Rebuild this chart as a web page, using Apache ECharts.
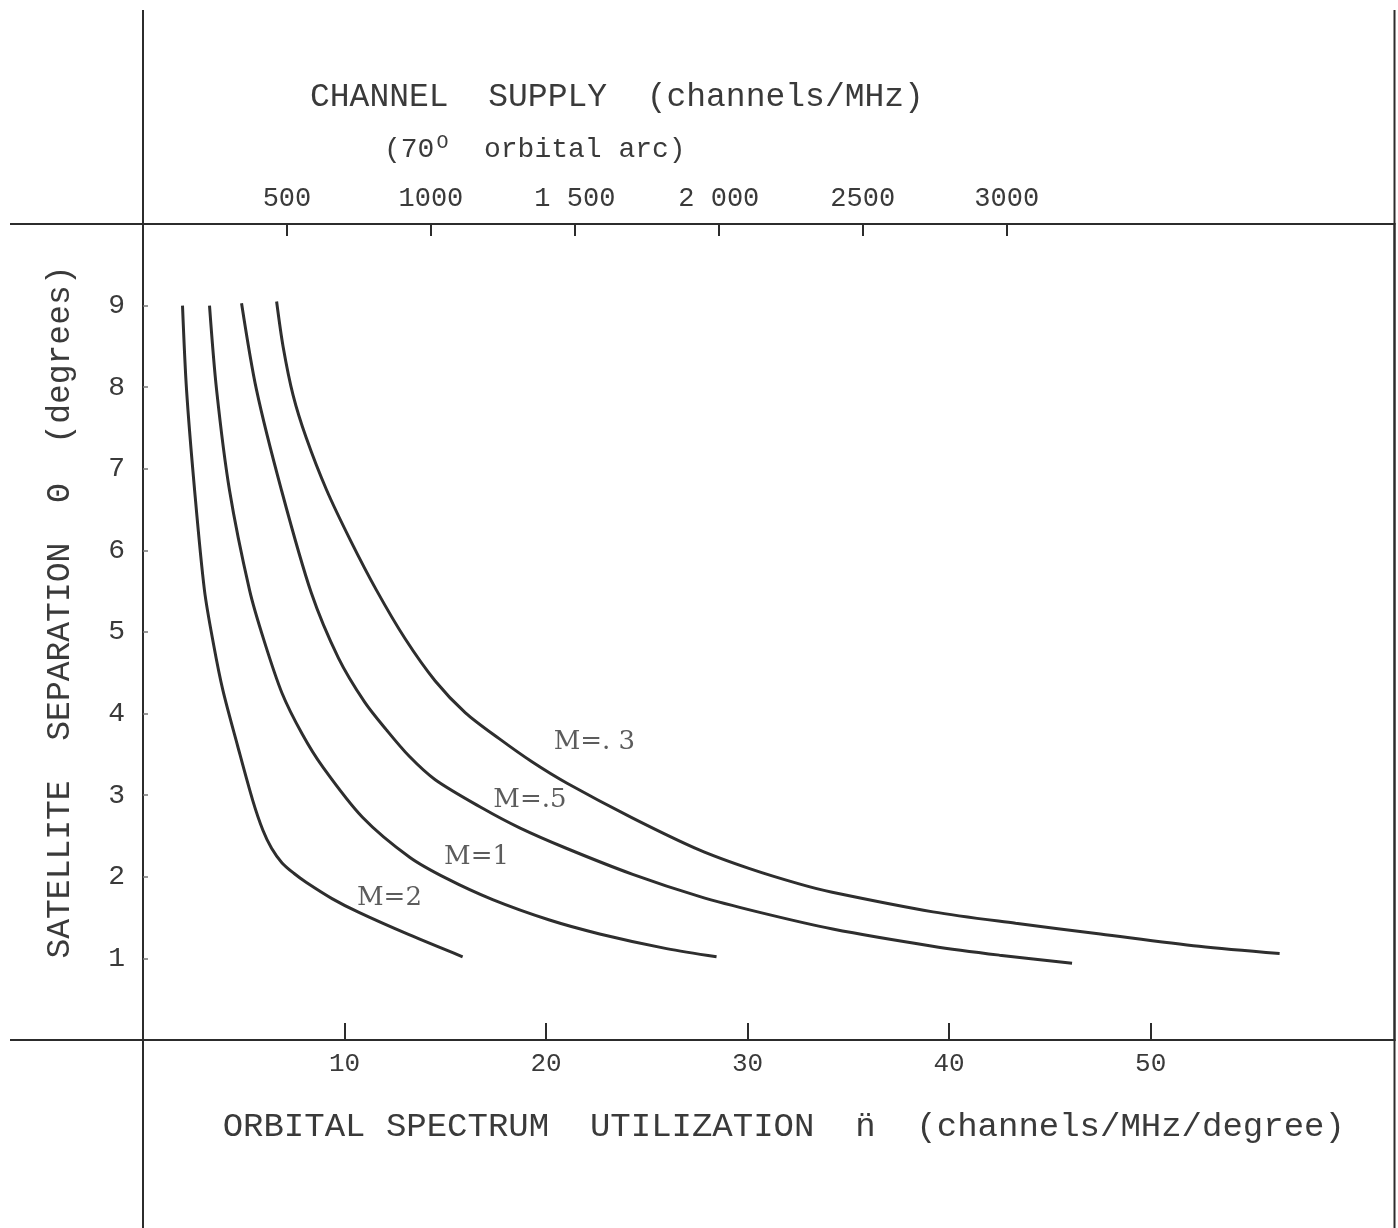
<!DOCTYPE html>
<html>
<head>
<meta charset="utf-8">
<script src="https://cdn.jsdelivr.net/npm/echarts@6/dist/echarts.min.js"></script>
<style>
html,body{margin:0;padding:0;background:#ffffff;}
#chart{width:1398px;height:1228px;}
</style>
</head>
<body>
<div id="chart"></div>
<script>
// ---------------- data ----------------
const seriesNames = ['M=2', 'M=1', 'M=.5', 'M=.3'];

// [orbital spectrum utilization n (channels/MHz/degree), satellite separation θ (degrees)]
const curveM2 = [[1.96,9.0],[2.16,7.97],[2.56,6.74],[3.05,5.51],[3.5,4.85],[3.96,4.29],[4.7,3.6],[5.44,2.94],[5.95,2.57],[6.38,2.35],[6.9,2.17],[7.5,2.04],[8.11,1.93],[9.4,1.73],[10.74,1.56],[13.2,1.29],[15.86,1.02]];
const curveM1 = [[3.30,9.0],[3.65,7.97],[4.29,6.74],[5.29,5.51],[6.0,4.9],[6.9,4.25],[7.9,3.75],[8.91,3.35],[10.89,2.73],[13.23,2.24],[15.06,1.98],[17.35,1.72],[20.17,1.47],[22.66,1.30],[25.98,1.12],[28.46,1.02]];
const curveM05 = [[4.89,9.03],[5.63,7.97],[6.87,6.74],[8.35,5.48],[9.7,4.68],[11.0,4.14],[12.08,3.80],[13.2,3.48],[14.5,3.19],[16.85,2.84],[18.69,2.60],[21.0,2.35],[24.3,2.03],[27.6,1.76],[30.5,1.57],[34.22,1.36],[39.18,1.15],[42.5,1.04],[46.1,0.94]];
const curveM03 = [[6.63,9.05],[6.95,8.5],[7.45,7.9],[8.1,7.38],[9.11,6.74],[10.3,6.12],[11.59,5.51],[13.0,4.92],[14.5,4.40],[16.0,4.01],[17.69,3.69],[19.3,3.41],[21.02,3.15],[24.3,2.72],[27.6,2.33],[30.1,2.10],[32.6,1.91],[34.2,1.81],[39.2,1.57],[43.3,1.43],[47.5,1.30],[52.4,1.15],[56.4,1.06]];

const curveLabels = [
  { text: 'M=2',   n: 12.23, theta: 1.74 },
  { text: 'M=1',   n: 16.55, theta: 2.24 },
  { text: 'M=.5',  n: 19.2,  theta: 2.94 },
  { text: 'M=. 3', n: 22.4,  theta: 3.65 }
];

const bottomTicks = [10, 20, 30, 40, 50];
const topTicks = [500, 1000, 1500, 2000, 2500, 3000];
const topTickLabels = ['500', '1000', '1 500', '2 000', '2500', '3000'];
const yTicks = [1, 2, 3, 4, 5, 6, 7, 8, 9];

const ARC_DEGREES = 70;      // channel supply = n * 70° orbital arc
const N_MAX = 62.1;
const THETA_MAX = 10;

// ---------------- layout / style ----------------
const W = 1398, H = 1228;
const GRID = { left: 143, top: 224, right: 3.5, bottom: 188 };
const LINE = '#2c2c2c';
const TEXT = '#3a3a3a';
const MONO = "'Liberation Mono', 'DejaVu Sans Mono', monospace";
const SERIF = "'DejaVu Serif', 'Liberation Serif', serif";

const gx0 = GRID.left, gy0 = GRID.top, gx1 = W - GRID.right, gy1 = H - GRID.bottom;
const frameStyle = { stroke: LINE, lineWidth: 2 };
function seg(x1, y1, x2, y2) {
  return { type: 'line', silent: true, shape: { x1, y1, x2, y2 }, style: frameStyle };
}

const curves = [curveM2, curveM1, curveM05, curveM03];

const chart = echarts.init(document.getElementById('chart'), null, { renderer: 'canvas' });

chart.setOption({
  backgroundColor: '#ffffff',
  animation: false,
  title: [
    {
      text: 'CHANNEL  SUPPLY  (channels/MHz)',
      left: 305, top: 76,
      textStyle: { fontFamily: MONO, fontSize: 33, fontWeight: 'normal', color: TEXT }
    },
    {
      text: '(70{s|O}  orbital arc)',
      left: 379, top: 128,
      textStyle: {
        fontFamily: MONO, fontSize: 28, fontWeight: 'normal', color: TEXT,
        rich: { s: { fontFamily: MONO, fontSize: 20, color: TEXT, verticalAlign: 'top', padding: [0, 2, 14, 2] } }
      }
    }
  ],
  grid: { left: GRID.left, top: GRID.top, right: GRID.right, bottom: GRID.bottom, containLabel: false },
  xAxis: [
    {
      type: 'value', position: 'bottom', min: 0, max: N_MAX,
      name: 'ORBITAL SPECTRUM  UTILIZATION  n\u0308  (channels/MHz/degree)',
      nameLocation: 'middle', nameGap: 70,
      nameTextStyle: { fontFamily: MONO, fontSize: 34, color: TEXT, padding: [0, 0, 0, 30] },
      splitLine: { show: false },
      axisLine: { show: true, onZero: false, lineStyle: { color: LINE, width: 2 } },
      axisTick: { show: true, inside: true, length: 17, customValues: bottomTicks, lineStyle: { color: LINE, width: 2 } },
      axisLabel: { show: true, customValues: bottomTicks, margin: 11, fontFamily: MONO, fontSize: 26, color: TEXT }
    },
    {
      type: 'value', position: 'top', min: 0, max: N_MAX * ARC_DEGREES,
      splitLine: { show: false },
      axisLine: { show: true, onZero: false, lineStyle: { color: LINE, width: 2 } },
      axisTick: { show: true, inside: true, length: 12, customValues: topTicks, lineStyle: { color: LINE, width: 2 } },
      axisLabel: {
        show: true, customValues: topTicks, margin: 12, fontFamily: MONO, fontSize: 27, color: TEXT,
        formatter: function (v) { const i = topTicks.indexOf(v); return i >= 0 ? topTickLabels[i] : ''; }
      }
    }
  ],
  yAxis: [
    {
      type: 'value', position: 'left', min: 0, max: THETA_MAX,
      name: 'SATELLITE  SEPARATION  \u0398  (degrees)',
      nameLocation: 'middle', nameGap: 66, nameRotate: 90,
      nameTextStyle: { fontFamily: MONO, fontSize: 33, color: TEXT, padding: [0, 0, 0, 40] },
      splitLine: { show: false },
      axisLine: { show: true, onZero: false, lineStyle: { color: LINE, width: 2 } },
      axisTick: { show: true, inside: true, length: 5, customValues: yTicks, lineStyle: { color: '#777', width: 1.5 } },
      axisLabel: { show: true, customValues: yTicks, margin: 18, fontFamily: MONO, fontSize: 28, color: TEXT }
    },
    {
      type: 'value', position: 'right', min: 0, max: THETA_MAX,
      splitLine: { show: false },
      axisLine: { show: true, onZero: false, lineStyle: { color: LINE, width: 2.5 } },
      axisTick: { show: false },
      axisLabel: { show: false }
    }
  ],
  series: curves.map(function (d, i) {
    return {
      name: seriesNames[i],
      type: 'line',
      xAxisIndex: 0, yAxisIndex: 0,
      data: d,
      smooth: 0.3,
      showSymbol: false,
      symbol: 'none',
      silent: true,
      lineStyle: { color: '#2e2e2e', width: 3 }
    };
  }).concat([{
    name: 'labels',
    type: 'scatter',
    xAxisIndex: 0, yAxisIndex: 0,
    symbolSize: 0,
    silent: true,
    data: curveLabels.map(function (l) { return { name: l.text, value: [l.n, l.theta] }; }),
    label: {
      show: true, position: 'inside',
      formatter: function (p) { return p.name; },
      fontFamily: SERIF, fontSize: 26, color: '#333'
    }
  }]),
  graphic: [
    seg(10, gy0, gx0, gy0),
    seg(10, gy1, gx0, gy1),
    seg(gx0, 10, gx0, gy0),
    seg(gx0, gy1, gx0, H),
    seg(gx1, 10, gx1, gy0),
    seg(gx1, gy1, gx1, H)
  ]
});
</script>
</body>
</html>
